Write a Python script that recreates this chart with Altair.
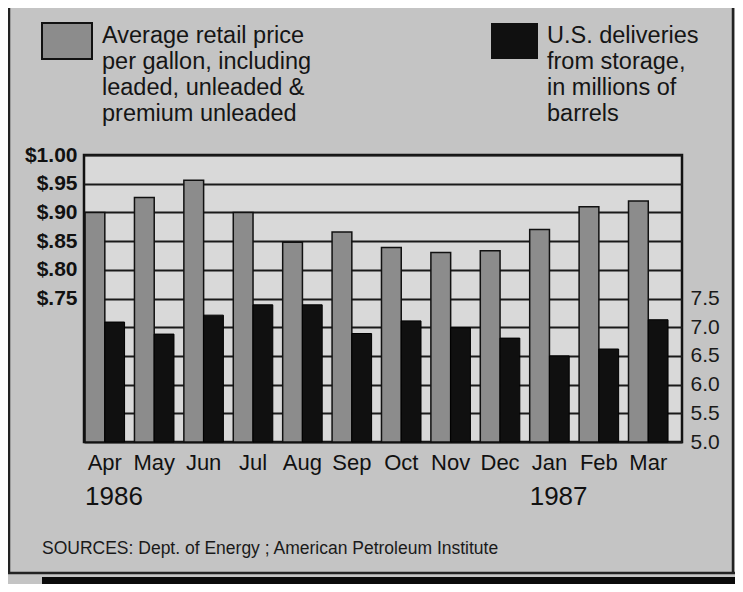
import altair as alt
import pandas as pd

months = ["Apr", "May", "Jun", "Jul", "Aug", "Sep", "Oct", "Nov", "Dec", "Jan", "Feb", "Mar"]
price = [0.900, 0.926, 0.956, 0.900, 0.848, 0.866, 0.839, 0.830, 0.833, 0.870, 0.910, 0.920]
deliveries = [7.09, 6.88, 7.21, 7.39, 7.39, 6.89, 7.11, 6.99, 6.81, 6.50, 6.62, 7.13]
series = ["price", "deliveries"]
price_ticks = [0.50, 0.55, 0.60, 0.65, 0.70, 0.75, 0.80, 0.85, 0.90, 0.95, 1.00]
del_ticks = [5.0, 5.5, 6.0, 6.5, 7.0, 7.5]
years = ["1986", "1987"]
year_months = ["Apr", "Jan"]
legend_price = ["Average retail price", "per gallon, including", "leaded, unleaded &", "premium unleaded"]
legend_del = ["U.S. deliveries", "from storage,", "in millions of", "barrels"]
source = "SOURCES: Dept. of Energy ; American Petroleum Institute"

FONT = "Liberation Sans"
GREY = "#8c8c8c"
BLACK = "#101010"

df_p = pd.DataFrame({"month": months, "value": price, "series": series[0]})
df_d = pd.DataFrame({"month": months, "value": deliveries, "series": series[1]})
df_y = pd.DataFrame({"month": year_months, "year": years})
one = pd.DataFrame({"a": [0]})

xscale = alt.Scale(domain=months, paddingInner=0.2, paddingOuter=0.152, align=0.07)
xaxis = alt.Axis(title=None, ticks=False, domain=False, labelAngle=0, labelFontSize=22,
                 labelFont=FONT, labelColor="#111", labelPadding=10)
xoff = alt.XOffset("series:N", scale=alt.Scale(domain=series, paddingInner=0, paddingOuter=0))

price_bars = alt.Chart(df_p).mark_bar(color=GREY, stroke="#111", strokeWidth=1.5).encode(
    x=alt.X("month:N", scale=xscale, axis=xaxis),
    xOffset=xoff,
    y=alt.Y("value:Q", scale=alt.Scale(domain=[0.5, 1.0], zero=False, nice=False),
            axis=alt.Axis(orient="left", title=None, values=price_ticks, grid=True,
                          gridColor="#1a1a1a", gridWidth=2, gridOpacity=1, ticks=False,
                          domain=False, labelFontSize=21, labelFont=FONT, labelFontWeight="bold",
                          labelColor="#111", labelPadding=7,
                          labelExpr="datum.value < 0.745 ? '' : (datum.value > 0.995 ? '$1.00' : '$' + replace(format(datum.value, '.2f'), '0.', '.'))")),
    y2=alt.datum(0.5),
)

del_bars = alt.Chart(df_d).mark_bar(color=BLACK, stroke="#000", strokeWidth=1).encode(
    x=alt.X("month:N", scale=xscale, axis=xaxis),
    xOffset=xoff,
    y=alt.Y("value:Q", scale=alt.Scale(domain=[5.0, 10.0], zero=False, nice=False),
            axis=alt.Axis(orient="right", title=None, values=del_ticks, grid=False, ticks=False,
                          domain=False, format=".1f", labelFontSize=21, labelFont=FONT,
                          labelColor="#1a1a1a", labelPadding=8)),
    y2=alt.datum(5.0),
)

year_text = alt.Chart(df_y).mark_text(align="left", baseline="middle", fontSize=26,
                                       font=FONT, color="#111").encode(
    x=alt.X("month:N", scale=xscale, bandPosition=0, axis=xaxis),
    y=alt.value(342),
    text="year:N",
)

leg_sq1 = alt.Chart(one).mark_rect(color=GREY, stroke="#111", strokeWidth=2).encode(
    x=alt.value(-42), x2=alt.value(8), y=alt.value(-132), y2=alt.value(-96))
leg_sq2 = alt.Chart(one).mark_rect(color=BLACK).encode(
    x=alt.value(407), x2=alt.value(454), y=alt.value(-132), y2=alt.value(-96))
leg_t1 = alt.Chart(one).mark_text(text=legend_price, align="left", baseline="alphabetic",
                                   fontSize=23.5, lineHeight=26, font=FONT, color="#151515").encode(
    x=alt.value(18), y=alt.value(-112))
leg_t2 = alt.Chart(one).mark_text(text=legend_del, align="left", baseline="alphabetic",
                                   fontSize=23.5, lineHeight=26, font=FONT, color="#151515").encode(
    x=alt.value(463), y=alt.value(-112))
src = alt.Chart(one).mark_text(text=source, align="left", baseline="middle", fontSize=17.5,
                               font=FONT, color="#1a1a1a").encode(
    x=alt.value(-42), y=alt.value(394))

frame_l = alt.Chart(one).mark_rule(color="#222", strokeWidth=2.5).encode(
    x=alt.value(-75), y=alt.value(-147), y2=alt.value(418))
frame_r = alt.Chart(one).mark_rule(color="#222", strokeWidth=2.5).encode(
    x=alt.value(649), y=alt.value(-147), y2=alt.value(418))
frame_b = alt.Chart(one).mark_rule(color="#222", strokeWidth=2.5).encode(
    x=alt.value(-76), x2=alt.value(651), y=alt.value(418))
band = alt.Chart(one).mark_rect(color="#0a0a0a").encode(
    x=alt.value(-42), x2=alt.value(651), y=alt.value(422), y2=alt.value(429))

chart = alt.layer(
    price_bars, del_bars, year_text, leg_sq1, leg_sq2, leg_t1, leg_t2, src,
    frame_l, frame_r, frame_b, band
).resolve_scale(y="independent").properties(
    width=598, height=287,
    padding={"left": 76, "top": 147, "right": 53, "bottom": 142},
    autosize=alt.AutoSizeParams(type="none"),
    background="#c4c4c4",
).configure_view(fill="#d9d9d9", stroke="#111", strokeWidth=2.5)

chart.save("out.html", embed_options={"renderer": "svg", "actions": False})
